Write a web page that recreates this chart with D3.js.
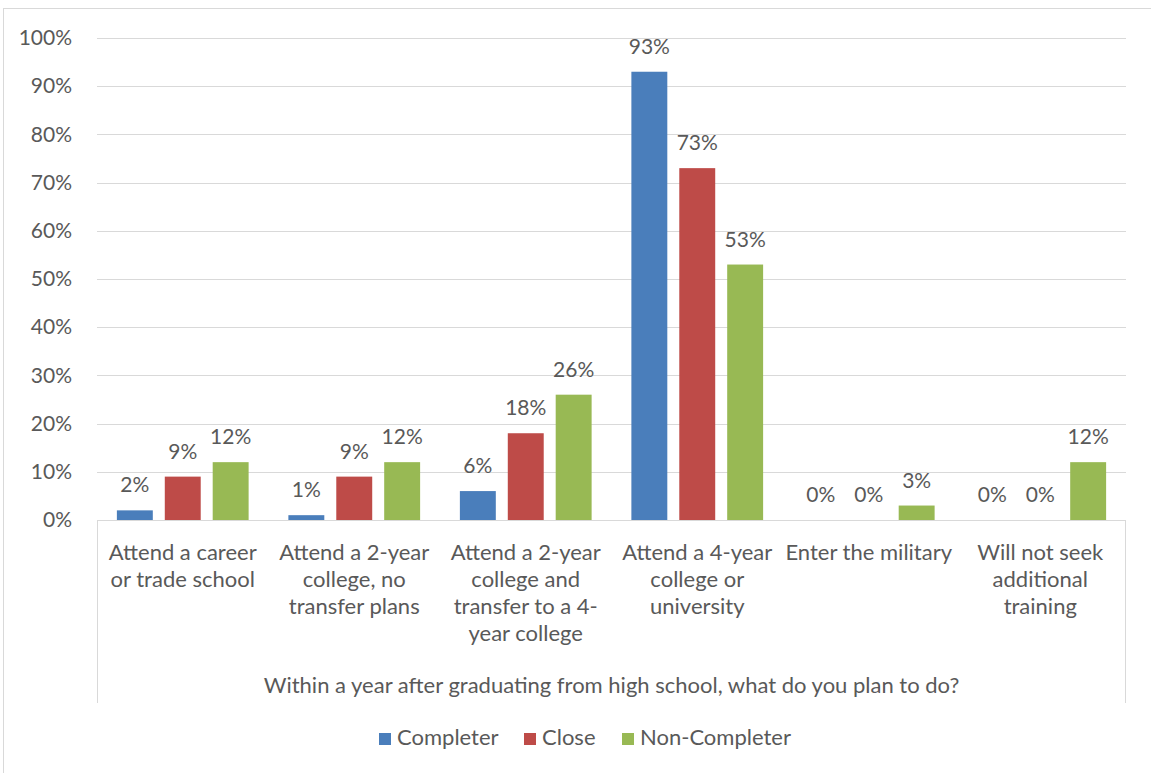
<!DOCTYPE html>
<html>
<head>
<meta charset="utf-8">
<script src="https://cdn.jsdelivr.net/npm/d3@7"></script>
<style>
  html, body { margin: 0; padding: 0; background: #fff; }
  svg { display: block; }
  text { font-family: Lato, "Open Sans", sans-serif; fill: #595959; }
</style>
</head>
<body>
<svg id="chart" width="1151" height="773"></svg>
<script>
// Survey answers: plans within a year after high school
const categories = [
  ["Attend a career", "or trade school"],
  ["Attend a 2-year", "college, no", "transfer plans"],
  ["Attend a 2-year", "college and", "transfer to a 4-", "year college"],
  ["Attend a 4-year", "college or", "university"],
  ["Enter the military"],
  ["Will not seek", "additional", "training"]
];
const seriesNames = ["Completer", "Close", "Non-Completer"];
const completer    = [2, 1, 6, 93, 0, 0];
const close        = [9, 9, 18, 73, 0, 0];
const nonCompleter = [12, 12, 26, 53, 3, 12];
const yTicks = [0, 10, 20, 30, 40, 50, 60, 70, 80, 90, 100];
const axisTitle = "Within a year after graduating from high school, what do you plan to do?";
const colors = ["#4a7ebb", "#be4b48", "#98b954"];

const seriesValues = [completer, close, nonCompleter];
const svg = d3.select("#chart");

// Outer chart frame
svg.append("rect").attr("x", 3.5).attr("y", 8.5).attr("width", 1160).attr("height", 780)
  .attr("fill", "none").attr("stroke", "#d9d9d9");

const plotLeft = 97, plotRight = 1126, plotTop = 38, plotBottom = 520;
const catIdx = categories.map((_, i) => i);

const x0 = d3.scaleBand().domain(catIdx).range([plotLeft, plotRight]).padding(0);
const x1 = d3.scaleBand().domain(d3.range(seriesNames.length))
  .range([0, x0.bandwidth()]).paddingInner(0.25).paddingOuter(0.415);
const y = d3.scaleLinear().domain([0, 100]).range([plotBottom, plotTop]);

// Horizontal gridlines
svg.append("g").selectAll("line").data(yTicks.filter(t => t > 0)).join("line")
  .attr("x1", plotLeft).attr("x2", plotRight)
  .attr("y1", d => Math.round(y(d)) + 0.5).attr("y2", d => Math.round(y(d)) + 0.5)
  .attr("stroke", "#d9d9d9").attr("stroke-width", 1);

// Y axis labels
const yAxis = d3.axisLeft(y).tickValues(yTicks).tickFormat(d => d + "%").tickSize(0).tickPadding(25);
const gy = svg.append("g").attr("transform", `translate(${plotLeft},0)`).call(yAxis);
gy.select(".domain").remove();
gy.selectAll("text").attr("font-size", 21).style("fill", "#595959")
  .attr("font-family", "Lato, 'Open Sans', sans-serif");

// Bars
const groups = svg.append("g").selectAll("g").data(catIdx).join("g")
  .attr("transform", i => `translate(${x0(i)},0)`);
groups.selectAll("rect").data(i => seriesValues.map((s, k) => ({k, v: s[i]}))).join("rect")
  .attr("x", d => x1(d.k)).attr("width", x1.bandwidth())
  .attr("y", d => y(d.v)).attr("height", d => plotBottom - y(d.v))
  .attr("fill", d => colors[d.k]);

// Data labels
groups.selectAll("text.val").data(i => seriesValues.map((s, k) => ({k, v: s[i]}))).join("text")
  .attr("class", "val")
  .attr("x", d => x1(d.k) + x1.bandwidth() / 2)
  .attr("y", d => y(d.v) - 18)
  .attr("text-anchor", "middle").attr("font-size", 21)
  .text(d => d.v + "%");

// Category axis box
const box = svg.append("g").attr("stroke", "#d9d9d9").attr("fill", "none");
box.append("line").attr("x1", plotLeft).attr("x2", plotRight).attr("y1", plotBottom + 0.5).attr("y2", plotBottom + 0.5);
box.append("line").attr("x1", plotLeft + 0.5).attr("x2", plotLeft + 0.5).attr("y1", plotBottom).attr("y2", 703);
box.append("line").attr("x1", plotRight - 0.5).attr("x2", plotRight - 0.5).attr("y1", plotBottom).attr("y2", 703);

// Category labels
const cat = svg.append("g").selectAll("text").data(catIdx).join("text")
  .attr("text-anchor", "middle").attr("font-size", 22)
  .attr("x", i => x0(i) + x0.bandwidth() / 2).attr("y", 560);
cat.selectAll("tspan").data(i => categories[i]).join("tspan")
  .attr("x", function() { return d3.select(this.parentNode).attr("x"); })
  .attr("dy", (d, j) => j === 0 ? 0 : 27)
  .text(d => d);

// Axis title
svg.append("text").attr("x", (plotLeft + plotRight) / 2).attr("y", 693)
  .attr("text-anchor", "middle").attr("font-size", 22).text(axisTitle);

// Legend
const legendX = [379, 524, 622];
const lg = svg.append("g").selectAll("g").data(seriesNames).join("g")
  .attr("transform", (d, k) => `translate(${legendX[k]},733)`);
lg.append("rect").attr("width", 12).attr("height", 12).attr("fill", (d, k) => colors[k]);
lg.append("text").attr("x", 18).attr("y", 12).attr("font-size", 22).text(d => d);
</script>
</body>
</html>
